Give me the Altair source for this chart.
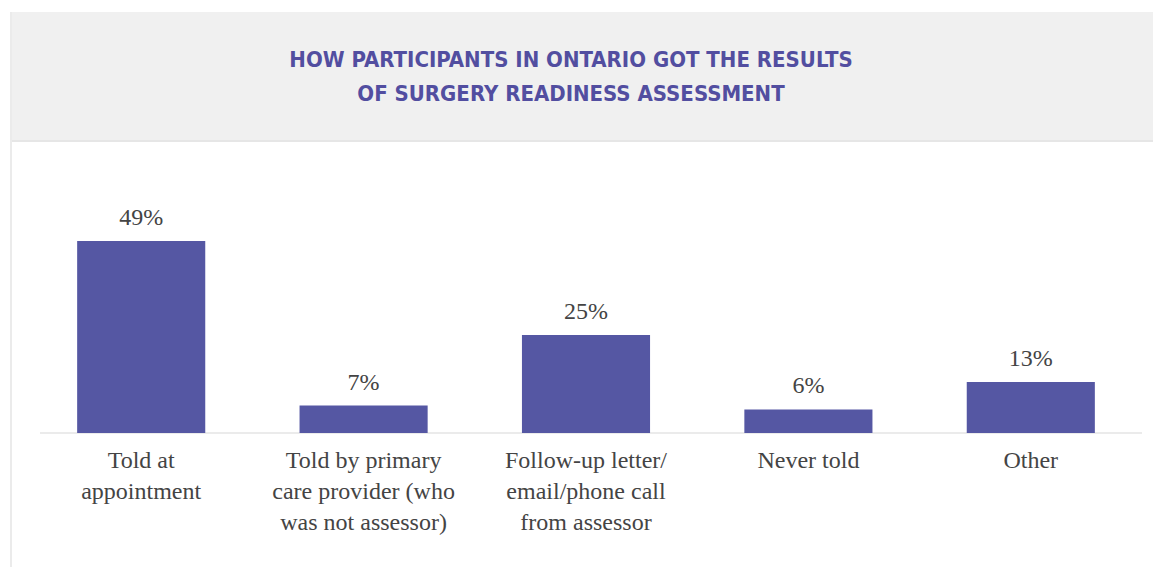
import altair as alt
import pandas as pd

categories = [
    "Told at|appointment",
    "Told by primary|care provider (who|was not assessor)",
    "Follow-up letter/|email/phone call|from assessor",
    "Never told",
    "Other",
]
values = [49, 7, 25, 6, 13]
value_labels = ["49%", "7%", "25%", "6%", "13%"]
title_lines = "HOW PARTICIPANTS IN ONTARIO GOT THE RESULTS\nOF SURGERY READINESS ASSESSMENT"

df = pd.DataFrame({"category": categories, "value": values, "label": value_labels})
one = pd.DataFrame({"k": [0]})

BAR = "#5557a3"
TXT = "#444444"
SERIF = "Liberation Serif, DejaVu Serif, serif"
COND = "Liberation Sans Narrow, DejaVu Sans Condensed, Roboto, sans-serif"

xenc = alt.X(
    "category:N",
    sort=None,
    scale=alt.Scale(range=[30, 1142], paddingInner=0.424, paddingOuter=0.212),
    axis=alt.Axis(
        title=None,
        labelExpr="split(datum.label, '|')",
        labelAngle=0,
        labelFont=SERIF,
        labelFontSize=24,
        labelColor=TXT,
        labelLineHeight=31,
        labelPadding=15,
        labelBaseline="top",
        labelLimit=400,
        domain=False,
        ticks=False,
        grid=False,
    ),
)
yenc = alt.Y("value:Q", scale=alt.Scale(domain=[0, 110.5]), axis=None)

header = alt.Chart(one).mark_rect(color="#f0f0f0").encode(
    x=alt.value(10), x2=alt.value(1153), y=alt.value(12), y2=alt.value(141)
)
header_line = alt.Chart(one).mark_rule(color="#e6e6e6", strokeWidth=2).encode(
    x=alt.value(10), x2=alt.value(1153), y=alt.value(141)
)
left_border = alt.Chart(one).mark_rule(color="#ebebeb", strokeWidth=2).encode(
    x=alt.value(11), y=alt.value(12), y2=alt.value(567)
)
baseline = alt.Chart(one).mark_rule(color="#ebebeb", strokeWidth=2).encode(
    x=alt.value(40), x2=alt.value(1142), y=alt.value(433)
)
bars = alt.Chart(df).mark_bar(color=BAR).encode(x=xenc, y=yenc)
texts = alt.Chart(df).mark_text(
    font=SERIF, fontSize=24, color=TXT, baseline="alphabetic", dy=-16
).encode(x=xenc, y=yenc, text="label:N")
title = alt.Chart(one).mark_text(
    font=COND, fontSize=22, fontWeight="bold", color="#524ea0",
    lineBreak="\n", lineHeight=34, align="center", baseline="middle"
).encode(x=alt.value(571), y=alt.value(60), text=alt.value(title_lines))

chart = alt.layer(header, header_line, left_border, baseline, bars, texts, title).properties(
    width=1153,
    height=433,
    autosize=alt.AutoSizeParams(type="none"),
    padding={"left": 0, "top": 0, "right": 0, "bottom": 134},
    background="white",
).configure_view(stroke=None)

chart.save("out.html", embed_options={"renderer": "svg", "actions": False})
